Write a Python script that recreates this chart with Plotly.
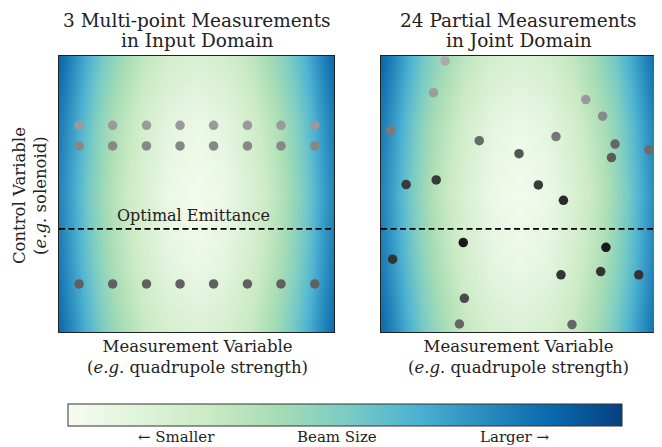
import plotly.graph_objects as go

# ---------------- data ----------------
# beam-size field, columns at grid_x, rows at grid_y
grid_x = [0.0, 0.05, 0.1, 0.15, 0.2, 0.3, 0.4, 0.5, 0.6, 0.7, 0.8, 0.85, 0.9, 0.95, 1.0]
grid_y = [0.0, 0.25, 0.5, 0.75, 1.0]
field_y0 = [0.87, 0.75, 0.63, 0.52, 0.42, 0.28, 0.19, 0.15, 0.19, 0.28, 0.42, 0.52, 0.63, 0.75, 0.87]
field_y25 = [0.81, 0.69, 0.56, 0.45, 0.36, 0.21, 0.10, 0.06, 0.10, 0.21, 0.36, 0.45, 0.56, 0.69, 0.81]
field_y50 = [0.78, 0.66, 0.52, 0.42, 0.32, 0.17, 0.06, 0.02, 0.06, 0.17, 0.32, 0.42, 0.52, 0.66, 0.78]
field_y75 = [0.81, 0.69, 0.56, 0.45, 0.36, 0.21, 0.10, 0.06, 0.10, 0.21, 0.36, 0.45, 0.56, 0.69, 0.81]
field_y100 = [0.88, 0.76, 0.64, 0.53, 0.44, 0.30, 0.21, 0.17, 0.21, 0.30, 0.44, 0.53, 0.64, 0.76, 0.88]

# left panel: multi-point scans (x positions, y rows)
scan_x = [0.073, 0.195, 0.318, 0.44, 0.562, 0.685, 0.807, 0.93]
scan_rows = [0.749, 0.674, 0.174]
scan_colors = ["#9a9a9a", "#878787", "#606060"]

# right panel: partial measurements
part_x = [0.232, 0.190, 0.035, 0.742, 0.803, 0.356, 0.634, 0.848, 0.835, 0.971, 0.500, 0.091,
          0.200, 0.570, 0.661, 0.298, 0.815, 0.042, 0.652, 0.796, 0.934, 0.302, 0.284, 0.692]
part_y = [0.982, 0.867, 0.730, 0.842, 0.782, 0.693, 0.708, 0.681, 0.632, 0.660, 0.646, 0.534,
          0.551, 0.533, 0.477, 0.324, 0.307, 0.264, 0.207, 0.219, 0.207, 0.122, 0.029, 0.027]
part_colors = ["#ababab", "#9c9c9c", "#7a7a7a", "#9a9a9a", "#898989", "#6a6a6a", "#777777", "#666666",
               "#5a5a5a", "#6a6a6a", "#555555", "#3a3a3a", "#383838", "#3a3a3a", "#2a2a2a", "#1a1a1a",
               "#1a1a1a", "#333333", "#353535", "#333333", "#333333", "#4a4a4a", "#666666", "#666666"]

optimal_y = 0.374

title_lines = [["3 Multi-point Measurements", "in Input Domain"],
               ["24 Partial Measurements", "in Joint Domain"]]
xlabel = "Measurement Variable<br>(<i>e</i>.<i>g</i>. quadrupole strength)"
ylabel = "Control Variable<br>(<i>e</i>.<i>g</i>. solenoid)"
cbar_labels = ["\u2190 Smaller", "Beam Size", "Larger \u2192"]

FONT = "DejaVu Serif"

# ---------------- figure ----------------
field = [field_y0, field_y25, field_y50, field_y75, field_y100]
fig = go.Figure()

for i, (xa, ya) in enumerate([("x", "y"), ("x2", "y2")]):
    fig.add_trace(go.Heatmap(
        x=grid_x, y=grid_y, z=field, colorscale="GnBu", zmin=0, zmax=1,
        zsmooth="best", xaxis=xa, yaxis=ya, showscale=(i == 0), hoverinfo="skip",
        colorbar=dict(orientation="h", lenmode="pixels", len=554, thickness=22,
                      x=0.478, xanchor="center", y=-0.2609, yanchor="top",
                      xpad=0, ypad=0, outlinewidth=1, outlinecolor="#333333",
                      showticklabels=False, ticks=""),
    ))

for row, col in zip(scan_rows, scan_colors):
    fig.add_trace(go.Scatter(x=scan_x, y=[row] * len(scan_x), mode="markers",
                             marker=dict(size=9.5, color=col), xaxis="x", yaxis="y",
                             showlegend=False))

fig.add_trace(go.Scatter(x=part_x, y=part_y, mode="markers",
                         marker=dict(size=9.5, color=part_colors), xaxis="x2", yaxis="y2",
                         showlegend=False))

for xa, ya in [("x", "y"), ("x2", "y2")]:
    fig.add_trace(go.Scatter(x=[0, 1], y=[optimal_y, optimal_y], mode="lines",
                             line=dict(color="black", width=1.8, dash="6px,3.5px"),
                             xaxis=xa, yaxis=ya, showlegend=False, hoverinfo="skip"))

axis_common = dict(range=[0, 1], showticklabels=False, ticks="", showgrid=False, zeroline=False,
                   showline=True, linecolor="#222222", linewidth=1, mirror=True)

# the page body adds an 8px offset, so the figure is sized/margined to compensate
fig.update_layout(
    width=654, height=439,
    margin=dict(l=51, r=5, t=48, b=115),
    paper_bgcolor="white", plot_bgcolor="white",
    showlegend=False,
    font=dict(family=FONT, color="#222222", size=16),
    xaxis=dict(domain=[0, 0.46], **axis_common),
    yaxis=dict(domain=[0, 1], **axis_common),
    xaxis2=dict(domain=[0.5385, 1], **axis_common),
    yaxis2=dict(domain=[0, 1], anchor="x2", **axis_common),
)
fig.layout.xaxis2.anchor = "y2"

ann = []
for xc, lines in zip([0.2308, 0.769], title_lines):
    for yl, t in zip([1.128, 1.055], lines):
        ann.append(dict(text=t, x=xc, y=yl, xref="paper", yref="paper", showarrow=False,
                        xanchor="center", yanchor="middle", font=dict(size=18.5, family=FONT)))
    ann.append(dict(text=xlabel, x=xc, y=-0.0906, xref="paper", yref="paper", showarrow=False,
                    xanchor="center", yanchor="middle", font=dict(size=16.5, family=FONT)))
ann.append(dict(text=ylabel, x=-0.0485, y=0.496, xref="paper", yref="paper", showarrow=False,
                textangle=-90, xanchor="center", yanchor="middle", font=dict(size=16.5, family=FONT)))
ann.append(dict(text="Optimal Emittance", x=0.49, y=optimal_y, xref="x", yref="y", showarrow=False,
                xanchor="center", yanchor="bottom", yshift=2, font=dict(size=16, family=FONT)))
for xc, t in zip([0.1957, 0.465, 0.761], cbar_labels):
    ann.append(dict(text=t, x=xc, y=-0.3804, xref="paper", yref="paper", showarrow=False,
                    xanchor="center", yanchor="middle", font=dict(size=15, family=FONT)))
fig.update_layout(annotations=ann)

fig.write_html("out.html")
